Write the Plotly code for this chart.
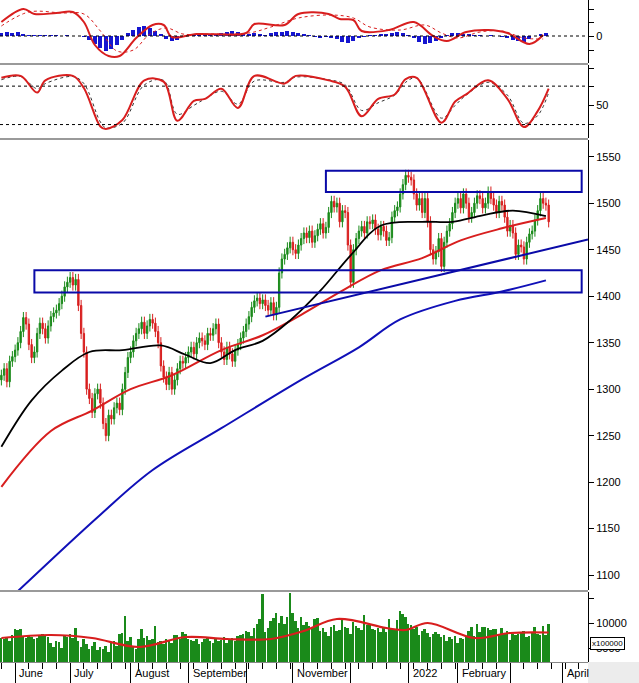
import plotly.graph_objects as go

# daily closes, index 0 = first session shown (mid May 2021)
closes = [
    1315, 1322, 1308, 1330, 1335, 1342, 1350, 1362, 1377, 1370,
    1348, 1334, 1340, 1360, 1371, 1365, 1355, 1368, 1378, 1382,
    1385, 1392, 1400, 1410, 1415, 1420, 1412, 1418, 1390, 1360,
    1340, 1300, 1290, 1275, 1295, 1300, 1285, 1263, 1250, 1272,
    1268, 1280, 1285, 1278, 1300, 1318, 1334, 1340, 1352, 1360,
    1365, 1372, 1360, 1368, 1375, 1371, 1362, 1350, 1325, 1313,
    1305, 1318, 1300, 1310, 1322, 1330, 1328, 1334, 1340, 1345,
    1338, 1350, 1355, 1352, 1348, 1360, 1358, 1365, 1370, 1350,
    1340, 1332, 1345, 1338, 1330, 1342, 1348, 1355, 1362, 1370,
    1378, 1388, 1395, 1398, 1392, 1396, 1390, 1385, 1393, 1380,
    1388, 1425, 1440, 1445, 1452, 1458, 1450, 1446, 1455, 1462,
    1468, 1463, 1470, 1458, 1465, 1472, 1478, 1468, 1474, 1490,
    1502, 1496, 1500, 1480, 1492, 1490, 1455, 1415, 1450, 1462,
    1470, 1475, 1468, 1480, 1478, 1482, 1472, 1466, 1475, 1470,
    1460, 1463, 1485, 1492, 1496, 1510, 1520, 1530, 1528, 1525,
    1510, 1498, 1505, 1490, 1505, 1480, 1450, 1440, 1448, 1462,
    1432, 1458, 1470, 1478, 1490, 1500, 1505, 1495, 1510, 1500,
    1485, 1490, 1500, 1508, 1505, 1495, 1500, 1512, 1505, 1498,
    1490, 1502, 1498, 1485, 1470, 1476, 1468, 1445, 1455, 1453,
    1440, 1458, 1467, 1470, 1482, 1492, 1505, 1500, 1498, 1480,
]
volumes = [
    7000, 6800, 7200, 6500, 7600, 8800, 8600, 8900, 7200, 7000,
    7500, 7300, 6900, 7100, 7400, 7800, 7600, 7200, 6000, 5200,
    6500, 6200, 5000, 7500, 7200, 7800, 7000, 9000, 6500, 5200,
    6800, 5900, 4800, 5500, 6200, 4600, 5200, 4800, 5400, 4200,
    6000, 6400, 5500, 7800, 8000, 11500, 6400, 7200, 5500, 4800,
    6800, 8800, 7000, 7500, 6600, 6800, 9500, 6200, 6400, 5800,
    6900, 6500, 6100, 7600, 7700, 6900, 8300, 7800, 6800, 6700,
    6500, 6900, 5800, 6200, 6800, 7000, 6400, 6000, 6800, 6500,
    6600, 7200, 6100, 6800, 7000, 6500, 7400, 7600, 7800, 8500,
    8200, 7500, 9000, 9800, 10800, 15800, 8200, 9000, 10500, 11000,
    12000, 10000, 11500, 9800, 11200, 16000, 12000, 10500, 9000, 11200,
    9600, 10200, 9500, 9000, 10800, 11000, 8400, 9000, 8200, 7500,
    9200, 9600, 8400, 8700, 10800, 9300, 9100, 7800, 10300, 9400,
    9100, 8700, 11600, 9600, 9800, 8800, 8600, 9000, 8200, 9200,
    8300, 10800, 9000, 8800, 10700, 12400, 11800, 11200, 9800, 9600,
    8800, 9200, 7600, 8400, 8900, 8100, 7300, 7900, 8200, 7800,
    7200, 7600, 6400, 7200, 6800, 7400, 6100, 7000, 6800, 7200,
    8400, 9200, 7400, 9800, 8200, 9300, 9200, 9000, 8700, 8900,
    8800, 7800, 9000, 7900, 8400, 6600, 7800, 7600, 7900, 8100,
    8500, 7200, 7400, 8000, 9200, 7800, 7600, 9400, 7600, 9800,
]
wick = 6

# moving averages (day, value)
ma_black_d = [0, 11, 22, 32, 44, 58, 67, 76, 85, 95, 105, 116, 127, 138, 153, 164, 175, 186, 198]
ma_black_v = [1238, 1288, 1320, 1340, 1342, 1347, 1337, 1328, 1342, 1352, 1374, 1406, 1444, 1476, 1480, 1480, 1487, 1492, 1486]
ma_red_d = [0, 18, 33, 47, 62, 80, 95, 109, 124, 138, 153, 167, 182, 198]
ma_red_v = [1195, 1255, 1277, 1300, 1315, 1342, 1358, 1380, 1406, 1428, 1441, 1460, 1473, 1484]
ma_blue_d = [5, 36, 55, 80, 109, 130, 145, 165, 182, 198]
ma_blue_v = [1080, 1165, 1213, 1258, 1310, 1345, 1375, 1395, 1405, 1417]

# MACD
macd_d = [0, 8, 12, 20, 26, 30, 34, 39, 43, 49, 55, 59, 62, 71, 89, 92, 103, 108, 119, 123, 128, 131, 141, 150, 157, 162, 169, 177, 184, 192, 197]
macd_v = [14, 27, 22, 23, 24, 14, -9, -20, -20, -2, 11, 11, -1, 2, 3, 12, 11, 22, 22, 17, 16, 5, 6, 14, 0, -5, 4, 6, 3, -8, 1]
sig_d = [0, 10, 22, 30, 36, 42, 48, 54, 60, 66, 75, 90, 98, 108, 120, 128, 134, 145, 154, 160, 166, 174, 182, 190, 197]
sig_v = [10, 24, 23, 22, 5, -15, -14, 2, 8, 2, 2, 3, 9, 18, 21, 18, 9, 6, 11, 3, -2, 4, 5, -2, -3]
hist = [3, 4, 3, 4, 2, 1, 1, 1, 1, 1,
        1, 0, 1, 0, 0, -1, -4, -8, -12, -15,
        -13, -9, -4, 3, 6, 9, 10, 8, 5, 2,
        -3, -5, -4, -1, 1, 1, 2, 1, 1, 2,
        3, 4, 5, 4, 3, 2, 3, 2, 1, 3,
        4, 4, 5, 4, 3, 2, 1, -1, -2, -1,
        -2, -3, -6, -7, -5, -2, -1, 1, 1, 2,
        2, 3, 4, 3, 1, -2, -6, -8, -7, -5,
        -2, 1, 3, 3, 2, 2, 1, 1, 0, 1,
        0, -1, -2, -4, -5, -6, -3, 0, 2, 3]

# stochastic
sto_d = [0, 7, 13, 16, 26, 30, 36, 38, 44, 52, 59, 64, 70, 74, 80, 86, 92, 103, 107, 119, 125, 131, 137, 143, 147, 151, 160, 165, 169, 177, 184, 190, 195, 199]
sto_k = [93, 96, 70, 89, 96, 77, 17, 13, 27, 89, 87, 26, 57, 60, 76, 46, 96, 84, 96, 89, 79, 33, 60, 67, 91, 93, 23, 56, 67, 89, 60, 16, 41, 76]
sto_s = [90, 95, 76, 84, 95, 84, 24, 15, 22, 82, 89, 36, 50, 60, 72, 52, 88, 86, 94, 90, 82, 42, 54, 66, 86, 93, 30, 50, 66, 86, 66, 22, 34, 70]

vol_ma_d = [0, 18, 33, 50, 67, 82, 98, 110, 122, 140, 147, 155, 172, 185, 199]
vol_ma_v = [7000, 7600, 7000, 5200, 7200, 6800, 6800, 8400, 10800, 9000, 8600, 10000, 7000, 8000, 8100]

month_days = [5, 25, 47, 68, 89, 106, 127, 148, 166, 185, 204]
month_labels = ["June", "July", "August", "September", "", "November", "", "2022", "February", "", "April"]

days = list(range(len(closes)))
opens = [closes[0] - 5] + closes[:-1]
highs = [max(o, c) + wick for o, c in zip(opens, closes)]
lows = [min(o, c) - wick for o, c in zip(opens, closes)]

RED = "#d81e1e"
GREEN = "#1a8a1a"
BLUE = "#1010b8"
FONT = "Liberation Sans"

fig = go.Figure()

# MACD panel
fig.add_trace(go.Bar(x=[2 * i for i in range(len(hist))], y=hist, width=1.4,
                     marker_color="#1515d0", marker_line_width=0, xaxis="x", yaxis="y4"))
fig.add_trace(go.Scatter(x=sig_d, y=sig_v, mode="lines", line=dict(color=RED, width=1, dash="dot", shape="spline"),
                         xaxis="x", yaxis="y4"))
fig.add_trace(go.Scatter(x=macd_d, y=macd_v, mode="lines", line=dict(color=RED, width=2, shape="spline"),
                         xaxis="x", yaxis="y4"))

# stochastic panel
fig.add_trace(go.Scatter(x=sto_d, y=sto_s, mode="lines", line=dict(color="#333", width=1, dash="dot", shape="spline"),
                         xaxis="x", yaxis="y3"))
fig.add_trace(go.Scatter(x=sto_d, y=sto_k, mode="lines", line=dict(color=RED, width=2, shape="spline"),
                         xaxis="x", yaxis="y3"))

# price panel
fig.add_trace(go.Scatter(x=ma_blue_d, y=ma_blue_v, mode="lines", line=dict(color=BLUE, width=2, shape="spline"),
                         xaxis="x", yaxis="y2"))
fig.add_trace(go.Scatter(x=ma_red_d, y=ma_red_v, mode="lines", line=dict(color=RED, width=2, shape="spline"),
                         xaxis="x", yaxis="y2"))
fig.add_trace(go.Scatter(x=ma_black_d, y=ma_black_v, mode="lines", line=dict(color="black", width=1.8, shape="spline"),
                         xaxis="x", yaxis="y2"))
fig.add_trace(go.Candlestick(x=days, open=opens, high=highs, low=lows, close=closes,
                             increasing=dict(line=dict(color=GREEN, width=1), fillcolor=GREEN),
                             decreasing=dict(line=dict(color=RED, width=1), fillcolor=RED),
                             whiskerwidth=0, xaxis="x", yaxis="y2"))

# volume panel
fig.add_trace(go.Bar(x=days, y=volumes, width=0.7, marker_color=GREEN, marker_line_width=0,
                     xaxis="x", yaxis="y"))
fig.add_trace(go.Scatter(x=vol_ma_d, y=vol_ma_v, mode="lines", line=dict(color=RED, width=2.2, shape="spline"),
                         xaxis="x", yaxis="y"))

H = 662.0
def dom(top, bot):
    return [(H - bot) / H, (H - top) / H]

common_y = dict(side="right", showgrid=False, zeroline=False, ticks="outside", ticklen=5,
                tickcolor="black", showline=True, linecolor="black", linewidth=1,
                tickfont=dict(family=FONT, size=11, color="black"), anchor="x")

fig.update_layout(
    width=639, height=683, margin=dict(l=0, r=51, t=0, b=21, autoexpand=False),
    paper_bgcolor="white", plot_bgcolor="white", showlegend=False, bargap=0,
    xaxis=dict(range=[-0.5, 213.3], tickvals=month_days, showticklabels=False, ticks="outside",
               ticklen=21, tickcolor="black", showgrid=False, zeroline=False,
               minor=dict(ticks="outside", ticklen=6, tickcolor="black", dtick=5, tick0=0),
               rangeslider=dict(visible=False), showline=True, linecolor="#888", mirror=False),
    yaxis=dict(common_y, domain=dom(592, 662), range=[2200, 16200], tickvals=[5000, 10000, 15000],
               ticktext=["5000", "10000", ""]),
    yaxis2=dict(common_y, domain=dom(140, 590), range=[1084, 1568],
                tickvals=list(range(1100, 1551, 50))),
    yaxis3=dict(common_y, domain=dom(65, 138), range=[-1, 113], tickvals=[20, 50, 80, 107],
                ticktext=["", "50", "", ""]),
    yaxis4=dict(common_y, domain=dom(0, 63), range=[-27, 36], tickvals=[-14, 0, 14, 27],
                ticktext=["", "0", "", ""]),
)

# panel separators
for y0 in [63, 138, 590]:
    fig.add_shape(type="rect", xref="paper", yref="paper", x0=0, x1=1, y0=(H - y0 - 2) / H, y1=(H - y0) / H,
                  fillcolor="#9a9a9a", line_width=0, layer="above")

# grey corner below the right axis
fig.add_shape(type="rect", xref="paper", yref="paper", x0=1, x1=1.1, y0=-0.04, y1=0,
              fillcolor="#ececec", line_width=0)

# dashed reference lines
for yr, yv in [("y4", 0), ("y3", 80), ("y3", 20)]:
    fig.add_shape(type="line", xref="paper", yref=yr, x0=0, x1=1, y0=yv, y1=yv,
                  line=dict(color="black", width=1, dash="dot"))

# resistance/support zones and trendline
fig.add_shape(type="rect", xref="x", yref="y2", x0=118, x1=211, y0=1512, y1=1535,
              line=dict(color="#0a0aa8", width=2))
fig.add_shape(type="rect", xref="x", yref="y2", x0=12, x1=211, y0=1404, y1=1428,
              line=dict(color="#0a0aa8", width=2))
fig.add_shape(type="line", xref="x", yref="y2", x0=96, x1=213.3, y0=1378, y1=1461,
              line=dict(color="#0a0aa8", width=2))

for d, lab in zip(month_days, month_labels):
    if lab:
        fig.add_annotation(x=d + 0.8, y=0, xref="x", yref="paper", yshift=-3, text=lab, showarrow=False,
                           xanchor="left", yanchor="top", font=dict(family=FONT, size=11, color="black"))

fig.add_annotation(x=1, y=(H - 650) / H, xref="paper", yref="paper", xanchor="left", xshift=2,
                   text="x100000", showarrow=False, bgcolor="white", bordercolor="black", borderwidth=1,
                   borderpad=1, font=dict(family=FONT, size=8, color="black"))

fig.write_html("out.html", config={"displayModeBar": False},
               post_script="document.body.style.margin='0';")
